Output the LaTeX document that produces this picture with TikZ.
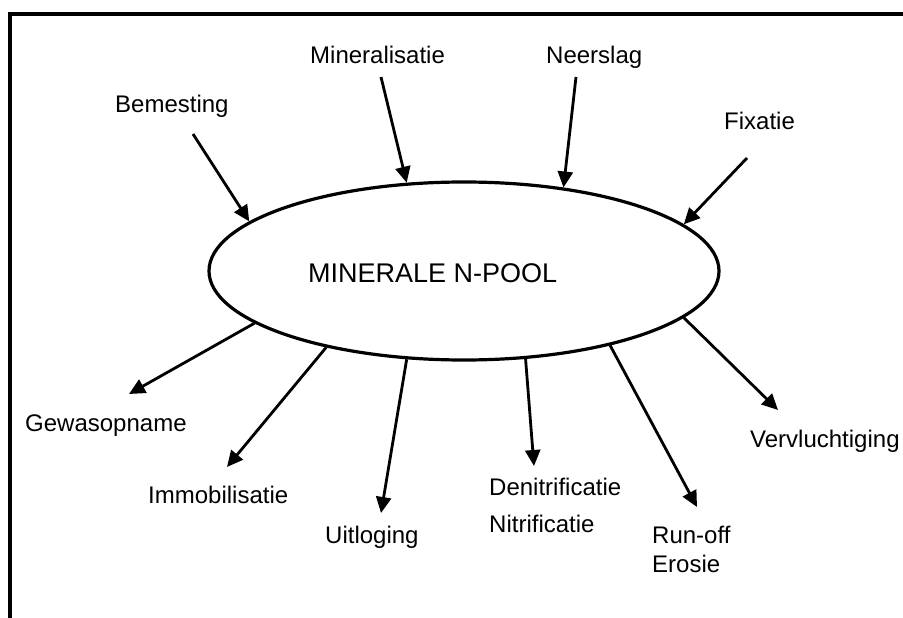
\documentclass[tikz,border=0pt]{standalone}
\usepackage{fontspec}
\setmainfont{Liberation Sans}
\usetikzlibrary{arrows.meta}
\usetikzlibrary{shapes.geometric}

\tikzset{
  lbl/.style={inner sep=0pt,anchor=base west,font=\fontsize{24}{29}\selectfont},
  flow/.style={line width=2.8pt,-{Triangle[length=16pt,width=15pt]}}
}

\begin{document}
\begin{tikzpicture}[x=1pt,y=-1pt]
    \useasboundingbox (0,0) rectangle (903,618);
    % open frame, only left and top edge
    \draw[line width=3.5pt] (10,618) -- (10,14) -- (903,14);

    % the pool
    \node[ellipse,draw,line width=3.2pt,inner sep=0pt,minimum width=510pt,minimum height=178pt] (pool) at (464,271) {};
    \node[lbl,font=\fontsize{27}{32}\selectfont] (pooltext) at (308,282) {MINERALE N-POOL};

    % inputs
    \node[lbl] (bem) at (115,113) {Bemesting};
    \node[lbl] (mina) at (310,64) {Mineralisatie};
    \node[lbl] (neer) at (546,64) {Neerslag};
    \node[lbl] (fix) at (724,129) {Fixatie};
    \coordinate (bemT) at (193,134);
    \coordinate (minaT) at (381,77);
    \coordinate (neerT) at (576,77);
    \coordinate (fixT) at (747,158);
    \draw[flow] (bemT) -- (pool.167.4);
    \draw[flow] (minaT) -- (pool.123.5);
    \draw[flow] (neerT) -- (pool.40.3);
    \draw[flow] (fixT) -- (pool.12.4);

    % outputs
    \node[lbl] (gew) at (25,431) {Gewasopname};
    \node[lbl] (immo) at (148,503) {Immobilisatie};
    \node[lbl] (uit) at (325,543) {Uitloging};
    \node[lbl] (deni) at (489,495) {Denitrificatie};
    \node[lbl] (nitr) at (489,532) {Nitrificatie};
    \node[lbl] (run) at (652,543) {Run-off};
    \node[lbl] (eros) at (652,572) {Erosie};
    \node[lbl] (verv) at (750,447) {Vervluchtiging};
    \coordinate (gewT) at (129,394);
    \coordinate (immoT) at (227,467);
    \coordinate (uitT) at (381,513);
    \coordinate (deniT) at (534,466);
    \coordinate (runT) at (697,507);
    \coordinate (vervT) at (778,410);
    \draw[flow] (pool.-166.8) -- (gewT);
    \draw[flow] (pool.-151.7) -- (immoT);
    \draw[flow] (pool.-123) -- (uitT);
    \draw[flow] (pool.-55.3) -- (deniT);
    \draw[flow] (pool.-27.4) -- (runT);
    \draw[flow] (pool.-12.9) -- (vervT);
\end{tikzpicture}
\end{document}
